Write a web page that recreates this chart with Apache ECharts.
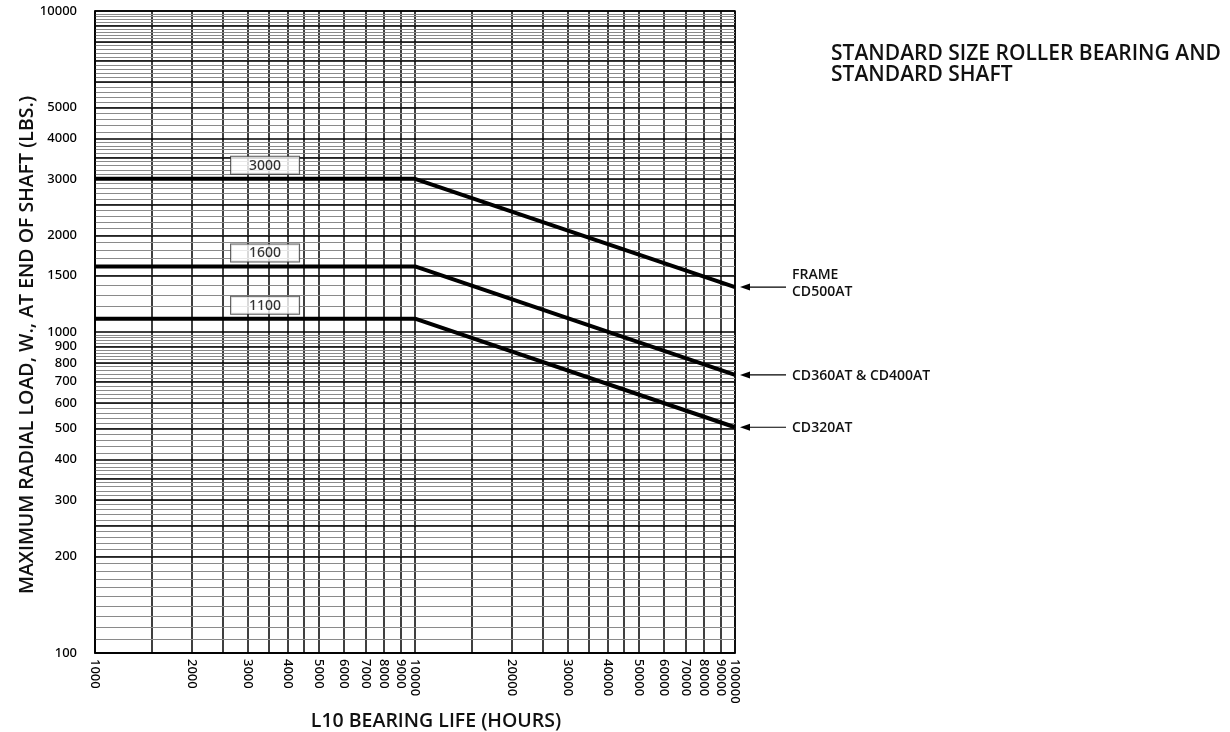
<!DOCTYPE html>
<html><head><meta charset="utf-8">
<script src="https://cdn.jsdelivr.net/npm/echarts@6/dist/echarts.min.js"></script>
<style>html,body{margin:0;padding:0;background:#fff}#c{width:1230px;height:732px}</style>
</head><body><div id="c"></div>
<script>
const FONT = "'Open Sans', 'Noto Sans', sans-serif";
const TICKFONT = "'Noto Sans', 'Open Sans', sans-serif";
// ---- data ----
const xLife = [1000, 10000, 100000];
const loadCD500 = [3000, 3000, 1380];
const loadCD360 = [1600, 1600, 735];
const loadCD320 = [1100, 1100, 505];
const frameNames = ['FRAME\nCD500AT', 'CD360AT & CD400AT', 'CD320AT'];
const boxLabelX = 3400;
const xLabelValues = [1000,2000,3000,4000,5000,6000,7000,8000,9000,10000,20000,30000,40000,50000,60000,70000,80000,90000,100000];
const xGridValues = [1000,1500,2000,2500,3000,3500,4000,4500,5000,6000,7000,8000,9000,10000,15000,20000,25000,30000,35000,40000,45000,50000,60000,70000,80000,90000,100000];
const yLabelValues = [100,200,300,400,500,600,700,800,900,1000,1500,2000,3000,4000,5000,10000];
const yMajorValues = [100,200,250,300,350,400,500,600,700,800,900,1000,1500,2000,2500,3000,3500,4000,5000,6000,7000,8000,9000,10000];
const yMinorRanges = [[100,400,10],[400,1000,20],[1000,4000,100],[4000,10000,200]];
const titleText = 'STANDARD SIZE ROLLER BEARING AND\nSTANDARD SHAFT';
const xTitle = 'L10 BEARING LIFE (HOURS)';
const yTitle = 'MAXIMUM RADIAL LOAD, W., AT END OF SHAFT (LBS.)';

const yMinorValues = [];
yMinorRanges.forEach(([a, b, s]) => { for (let v = a + s; v < b; v += s) yMinorValues.push(v); });
const plain = v => String(Math.round(v));

const curves = [loadCD500, loadCD360, loadCD320];
const chart = echarts.init(document.getElementById('c'), null, {renderer: 'canvas'});

const option = {
  animation: false,
  backgroundColor: '#fff',
  textStyle: {fontFamily: FONT},
  title: {text: titleText, left: 826, top: 39,
    textStyle: {fontFamily: FONT, fontSize: 21, fontWeight: 600, color: '#111', lineHeight: 21}},
  grid: {left: 95, right: 495, top: 11, bottom: 79, show: true, borderColor: '#000', borderWidth: 1.5, containLabel: false},
  xAxis: [{
    type: 'log', logBase: 10, min: 1000, max: 100000,
    axisLine: {show: true, lineStyle: {color: '#000', width: 1.5}},
    axisTick: {show: false, customValues: xGridValues},
    axisLabel: {customValues: xLabelValues, formatter: plain, rotate: -90, margin: 6, fontSize: 13, fontWeight: 500, color: '#000', fontFamily: TICKFONT},
    splitLine: {show: true, lineStyle: {color: '#000', width: 1.5}},
    minorSplitLine: {show: false}
  }],
  yAxis: [{
    type: 'log', logBase: 10, min: 100, max: 10000, z: 2,
    axisLine: {show: true, lineStyle: {color: '#000', width: 1.5}},
    axisTick: {show: false, customValues: yMajorValues},
    axisLabel: {customValues: yLabelValues, formatter: plain, margin: 18, fontSize: 13, fontWeight: 500, color: '#000', fontFamily: TICKFONT},
    splitLine: {show: true, lineStyle: {color: '#000', width: 1.5}}
  }, {
    type: 'log', logBase: 10, min: 100, max: 10000, z: 1, position: 'left',
    axisLine: {show: false}, axisLabel: {show: false},
    axisTick: {show: false, customValues: yMinorValues},
    splitLine: {show: true, lineStyle: {color: '#8a8a8a', width: 1}}
  }],
  series: curves.map((c, i) => ({
    type: 'line', name: frameNames[i], xAxisIndex: 0, yAxisIndex: 0,
    data: xLife.map((x, j) => [x, c[j]]),
    symbol: 'none', lineStyle: {color: '#000', width: 4}, z: 5, silent: true
  })).concat([{
    type: 'scatter', xAxisIndex: 0, yAxisIndex: 0,
    data: curves.map(c => [boxLabelX, c[0]]),
    symbolSize: 0, z: 6, silent: true,
    label: {show: true, position: 'top', distance: 5,
      formatter: p => plain(p.value[1]),
      fontFamily: TICKFONT, fontSize: 14, fontWeight: 500, color: '#000',
      backgroundColor: '#fff', borderColor: '#333', borderWidth: 1,
      width: 60, align: 'center', padding: [1, 4, 0, 4], lineHeight: 16}
  }])
};
chart.setOption(option);

const gfx = [];
curves.forEach((c, i) => {
  const [px, py] = chart.convertToPixel({xAxisIndex: 0, yAxisIndex: 0}, [xLife[xLife.length - 1], c[c.length - 1]]);
  gfx.push({type: 'line', shape: {x1: px + 12, y1: py, x2: px + 51, y2: py}, style: {stroke: '#000', lineWidth: 1.2}, z: 10});
  gfx.push({type: 'polygon', shape: {points: [[px + 5, py], [px + 15, py - 3.5], [px + 15, py + 3.5]]}, style: {fill: '#000'}, z: 10});
  gfx.push({type: 'text', x: px + 57, y: py + (i === 0 ? -4 : 1), z: 10,
    style: {text: frameNames[i], fill: '#111', fontFamily: FONT, fontSize: 14, fontWeight: 600, lineHeight: 17,
      align: 'left', verticalAlign: 'middle', textAlign: 'left', textVerticalAlign: 'middle'}});
});
gfx.push({type: 'text', x: 436, y: 721, z: 10,
  style: {text: xTitle, fill: '#111', fontFamily: FONT, fontSize: 19.5, fontWeight: 600,
    align: 'center', verticalAlign: 'middle', textAlign: 'center', textVerticalAlign: 'middle'}});
gfx.push({type: 'text', x: 27, y: 345, rotation: Math.PI / 2, z: 10,
  style: {text: yTitle, fill: '#111', fontFamily: FONT, fontSize: 19.5, fontWeight: 600,
    align: 'center', verticalAlign: 'middle', textAlign: 'center', textVerticalAlign: 'middle'}});
chart.setOption({graphic: gfx});
</script>
</body></html>
